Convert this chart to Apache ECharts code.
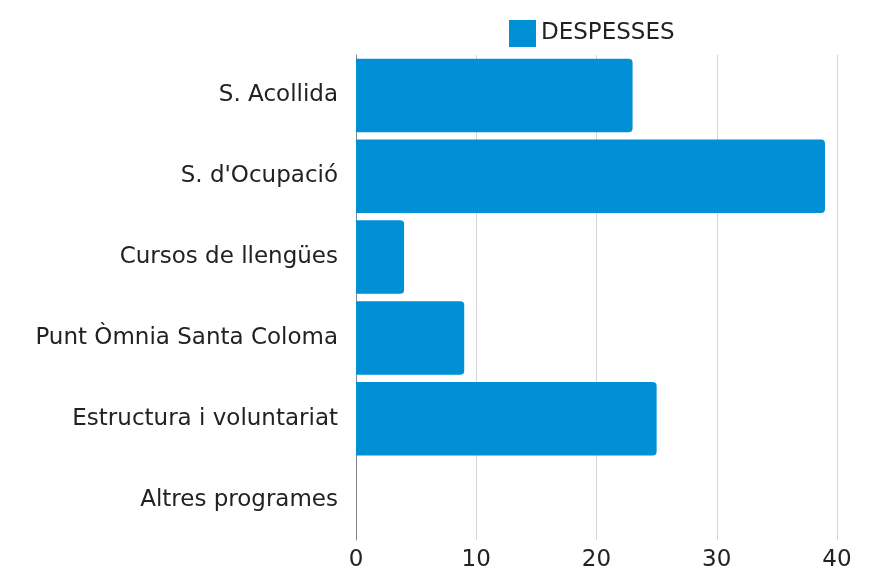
<!DOCTYPE html>
<html>
<head>
  <meta charset="utf-8">
  <title>Despeses</title>
  <script src="https://cdn.jsdelivr.net/npm/echarts/dist/echarts.min.js"></script>
  <style>
    html, body { margin: 0; padding: 0; background: #fff; }
    #chart { width: 870px; height: 572px; }
  </style>
</head>
<body>
  <div id="chart"></div>
  <script>
    // dades
    var categories = ['S. Acollida', "S. d'Ocupació", 'Cursos de llengües', 'Punt Òmnia Santa Coloma', 'Estructura i voluntariat', 'Altres programes'];
    var despeses = [23, 39, 4, 9, 25, 0];
    var xTicks = [0, 10, 20, 30, 40];
    var seriesName = 'DESPESSES';

    var font = 'DejaVu Sans';
    var chart = echarts.init(document.getElementById('chart'));
    var option = {
      animation: false,
      textStyle: { fontFamily: font },
      legend: {
        data: [seriesName],
        left: 504,
        top: 15,
        itemWidth: 27,
        itemHeight: 27,
        itemGap: 10,
        icon: 'rect',
        textStyle: { fontSize: 23, color: '#222', fontFamily: font }
      },
      grid: { left: 356, right: 33, top: 55, bottom: 27, containLabel: false },
      xAxis: {
        type: 'value',
        min: xTicks[0],
        max: xTicks[xTicks.length - 1],
        interval: 10,
        axisLine: { show: false },
        axisTick: { show: false },
        axisLabel: { fontSize: 23, color: '#222', margin: 9, fontFamily: font },
        splitLine: { lineStyle: { color: '#d6d6d6', width: 1 } }
      },
      yAxis: {
        type: 'category',
        inverse: true,
        data: categories,
        axisLine: { lineStyle: { color: '#888', width: 1 } },
        axisTick: { show: false },
        axisLabel: { fontSize: 23, color: '#222', margin: 18, fontFamily: font }
      },
      series: [{
        name: seriesName,
        type: 'bar',
        data: despeses,
        barCategoryGap: '9%',
        itemStyle: { color: '#018fd6', borderRadius: [0, 4, 4, 0] }
      }]
    };
    chart.setOption(option);
  </script>
</body>
</html>
